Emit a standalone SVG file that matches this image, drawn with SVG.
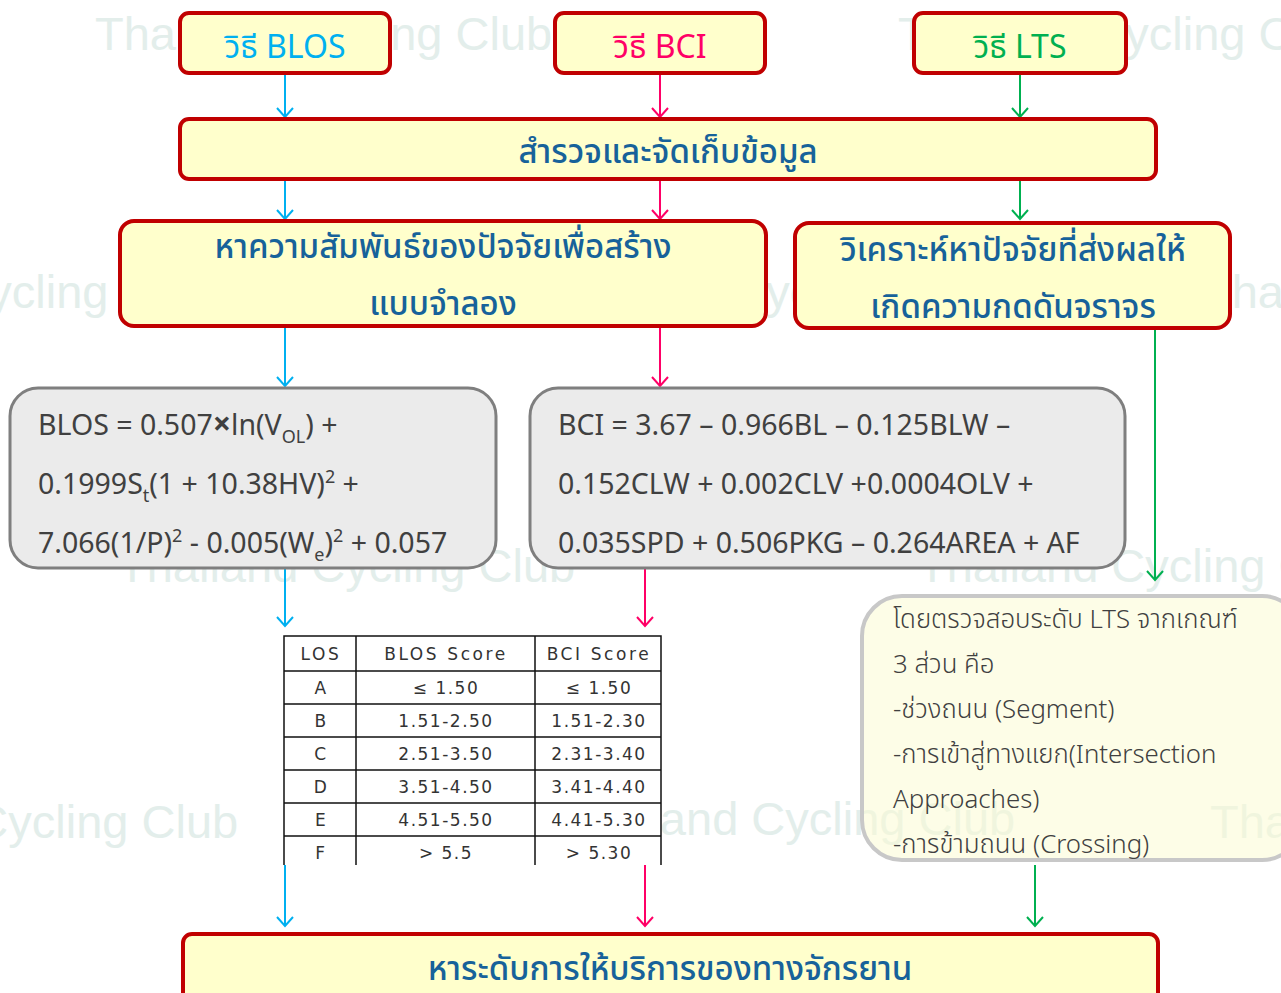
<svg xmlns="http://www.w3.org/2000/svg" width="1281" height="993" viewBox="0 0 1281 993">
<defs>
<style>
.wm{font-family:"Liberation Sans",Arial,sans-serif;font-size:47px;fill:#e3eeeb}
.yb{fill:#ffffcc;stroke:#c00000;stroke-width:4}
.ht{font-family:"Noto Sans Thai","Noto Sans","DejaVu Sans",sans-serif;font-size:33px;font-weight:500;fill:#17629a;text-anchor:middle}
.tp{font-family:"Noto Sans Thai","Noto Sans","DejaVu Sans",sans-serif;font-size:32px;text-anchor:middle}
.fb{fill:#ebebeb;stroke:#7f7f7f;stroke-width:3}
.ft{font-family:"Noto Sans","Open Sans",sans-serif;font-size:28.5px;fill:#404040}
.tt{font-family:"DejaVu Sans",Verdana,sans-serif;font-size:17px;fill:#333;text-anchor:middle;letter-spacing:1.5px}
.th{letter-spacing:2.6px}
.tl{stroke:#111;stroke-width:1.5;fill:none}
.nt{font-family:"Noto Sans Thai","Noto Sans",sans-serif;font-size:25.8px;fill:#404040;font-weight:300}
.c{stroke:#00b0f0;stroke-width:2;fill:none}
.p{stroke:#ff0066;stroke-width:2;fill:none}
.g{stroke:#00b050;stroke-width:2;fill:none}
</style>
<marker id="ac" markerWidth="20" markerHeight="20" refX="10" refY="10" orient="auto" markerUnits="userSpaceOnUse"><path d="M1,2 L10,10 L1,18" fill="none" stroke="#00b0f0" stroke-width="2"/></marker>
<marker id="ap" markerWidth="20" markerHeight="20" refX="10" refY="10" orient="auto" markerUnits="userSpaceOnUse"><path d="M1,2 L10,10 L1,18" fill="none" stroke="#ff0066" stroke-width="2"/></marker>
<marker id="ag" markerWidth="20" markerHeight="20" refX="10" refY="10" orient="auto" markerUnits="userSpaceOnUse"><path d="M1,2 L10,10 L1,18" fill="none" stroke="#00b050" stroke-width="2"/></marker>
</defs>
<rect width="1281" height="993" fill="#ffffff"/>
<g id="watermarks">
<text class="wm" x="95" y="50">Thailand Cycling Club</text>
<text class="wm" x="898" y="50">Thailand Cycling Club</text>
<text class="wm" x="-239" y="308">Thailand Cycling Club</text>
<text class="wm" x="539" y="308">Thailand Cycling Club</text>
<text class="wm" x="1203" y="308">Thailand Cycling Club</text>
<text class="wm" x="118" y="582">Thailand Cycling Club</text>
<text class="wm" x="918" y="582">Thailand Cycling Club</text>
<text class="wm" x="-219" y="838">Thailand Cycling Club</text>
<text class="wm" x="558" y="835">Thailand Cycling Club</text>
<text class="wm" x="1210" y="838">Thailand Cycling Club</text>
</g>
<g id="connectors">
<line class="c" x1="285" y1="73" x2="285" y2="117" marker-end="url(#ac)"/>
<line class="c" x1="285" y1="179" x2="285" y2="219" marker-end="url(#ac)"/>
<line class="c" x1="285" y1="326" x2="285" y2="386" marker-end="url(#ac)"/>
<line class="c" x1="285" y1="568" x2="285" y2="626" marker-end="url(#ac)"/>
<line class="c" x1="285" y1="865" x2="285" y2="926" marker-end="url(#ac)"/>
<line class="p" x1="660" y1="73" x2="660" y2="117" marker-end="url(#ap)"/>
<line class="p" x1="660" y1="179" x2="660" y2="219" marker-end="url(#ap)"/>
<line class="p" x1="660" y1="326" x2="660" y2="386" marker-end="url(#ap)"/>
<line class="p" x1="645" y1="568" x2="645" y2="626" marker-end="url(#ap)"/>
<line class="p" x1="645" y1="865" x2="645" y2="926" marker-end="url(#ap)"/>
<line class="g" x1="1020" y1="73" x2="1020" y2="117" marker-end="url(#ag)"/>
<line class="g" x1="1020" y1="179" x2="1020" y2="219" marker-end="url(#ag)"/>
<line class="g" x1="1155" y1="328" x2="1155" y2="580" marker-end="url(#ag)"/>
<line class="g" x1="1035" y1="865" x2="1035" y2="926" marker-end="url(#ag)"/>
</g>
<g id="blos">
<rect class="yb" x="180" y="13" width="210" height="60" rx="9"/>
<text class="tp" x="285" y="58" style="fill:#00b0f0">วิธี BLOS</text>
</g>
<g id="bci">
<rect class="yb" x="555" y="13" width="210" height="60" rx="9"/>
<text class="tp" x="660" y="58" style="fill:#ff0066">วิธี BCI</text>
</g>
<g id="lts">
<rect class="yb" x="914" y="13" width="212" height="60" rx="9"/>
<text class="tp" x="1020" y="58" style="fill:#00b050">วิธี LTS</text>
</g>
<g id="survey">
<rect class="yb" x="180" y="119" width="976" height="60" rx="9"/>
<text class="ht" x="668" y="163">สำรวจและจัดเก็บข้อมูล</text>
</g>
<g id="model">
<rect class="yb" x="120" y="221" width="646" height="105" rx="14"/>
<text class="ht" x="443" y="258">หาความสัมพันธ์ของปัจจัยเพื่อสร้าง</text>
<text class="ht" x="443" y="315">แบบจำลอง</text>
</g>
<g id="analyze">
<rect class="yb" x="795" y="223" width="435" height="105" rx="14"/>
<text class="ht" x="1013" y="261">วิเคราะห์หาปัจจัยที่ส่งผลให้</text>
<text class="ht" x="1013" y="318">เกิดความกดดันจราจร</text>
</g>
<g id="blos-formula">
<rect class="fb" x="10" y="388" width="486" height="180" rx="28"/>
<text class="ft" x="38" y="435">BLOS = 0.507<tspan font-weight="bold" font-size="32">×</tspan>ln(V<tspan font-size="18" dy="8">OL</tspan><tspan dy="-8">) +</tspan></text>
<text class="ft" x="38" y="494">0.1999S<tspan font-size="18" dy="8">t</tspan><tspan dy="-8">(1 + 10.38HV)</tspan><tspan font-size="18" dy="-11">2</tspan><tspan dy="11"> +</tspan></text>
<text class="ft" x="38" y="553">7.066(1/P)<tspan font-size="18" dy="-11">2</tspan><tspan dy="11"> - 0.005(W</tspan><tspan font-size="18" dy="8">e</tspan><tspan dy="-8">)</tspan><tspan font-size="18" dy="-11">2</tspan><tspan dy="11"> + 0.057</tspan></text>
</g>
<g id="bci-formula">
<rect class="fb" x="530" y="388" width="595" height="180" rx="28"/>
<text class="ft" x="558" y="435">BCI = 3.67 – 0.966BL – 0.125BLW –</text>
<text class="ft" x="558" y="494">0.152CLW + 0.002CLV +0.0004OLV +</text>
<text class="ft" x="558" y="553">0.035SPD + 0.506PKG – 0.264AREA + AF</text>
</g>
<g id="los-table">
<rect x="284" y="636" width="377" height="229" fill="#ffffff"/>
<path class="tl" d="M284,865 V636 H661 V865 M356,636 V865 M535,636 V865 M284,671 H661 M284,704 H661 M284,737 H661 M284,770 H661 M284,803 H661 M284,836 H661"/>
<text class="tt th" x="321" y="660">LOS</text>
<text class="tt th" x="446" y="660">BLOS Score</text>
<text class="tt th" x="599" y="660">BCI Score</text>
<text class="tt" x="321" y="694">A</text><text class="tt" x="446" y="694">≤ 1.50</text><text class="tt" x="599" y="694">≤ 1.50</text>
<text class="tt" x="321" y="727">B</text><text class="tt" x="446" y="727">1.51-2.50</text><text class="tt" x="599" y="727">1.51-2.30</text>
<text class="tt" x="321" y="760">C</text><text class="tt" x="446" y="760">2.51-3.50</text><text class="tt" x="599" y="760">2.31-3.40</text>
<text class="tt" x="321" y="793">D</text><text class="tt" x="446" y="793">3.51-4.50</text><text class="tt" x="599" y="793">3.41-4.40</text>
<text class="tt" x="321" y="826">E</text><text class="tt" x="446" y="826">4.51-5.50</text><text class="tt" x="599" y="826">4.41-5.30</text>
<text class="tt" x="321" y="859">F</text><text class="tt" x="446" y="859">&gt; 5.5</text><text class="tt" x="599" y="859">&gt; 5.30</text>
</g>
<g id="lts-note">
<rect x="862" y="596" width="440" height="264" rx="40" fill="#fbfbd4" fill-opacity="0.55" stroke="#c8c8c8" stroke-width="4"/>
<text class="nt" x="893" y="628">โดยตรวจสอบระดับ LTS จากเกณฑ์</text>
<text class="nt" x="893" y="673">3 ส่วน คือ</text>
<text class="nt" x="893" y="718">-ช่วงถนน (Segment)</text>
<text class="nt" x="893" y="763">-การเข้าสู่ทางแยก(Intersection</text>
<text class="nt" x="893" y="808">Approaches)</text>
<text class="nt" x="893" y="853">-การข้ามถนน (Crossing)</text>
</g>
<g id="result">
<rect class="yb" x="183" y="934" width="975" height="80" rx="9"/>
<text class="ht" x="670" y="980">หาระดับการให้บริการของทางจักรยาน</text>
</g>
</svg>
